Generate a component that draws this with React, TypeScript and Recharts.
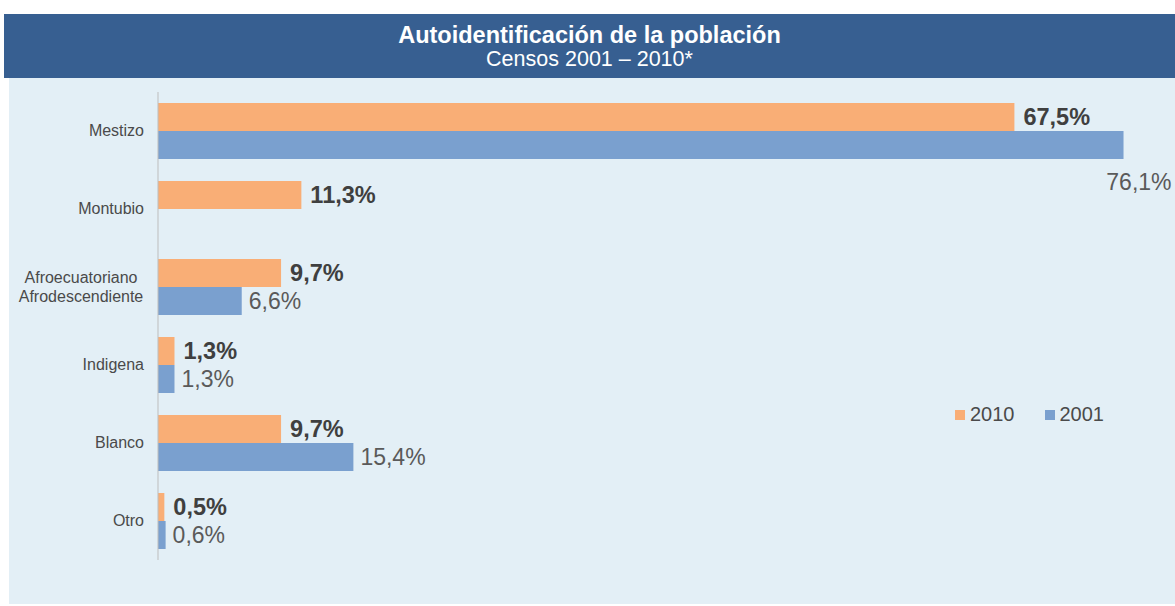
import React from "react";
import { BarChart, Bar, XAxis, YAxis, LabelList, Legend } from "recharts";

const categories = ["Mestizo", "Montubio", "Afroecuatoriano\nAfrodescendiente", "Indigena", "Blanco", "Otro"];
const values2010 = [67.5, 11.3, 9.7, 1.3, 9.7, 0.5];
const values2001 = [76.1, null, 6.6, 1.3, 15.4, 0.6];

const data = categories.map((name, i) => ({ name, y2010: values2010[i], y2001: values2001[i] }));

const FONT = "'Liberation Sans', Arial, sans-serif";
const ORANGE = "#f9ae76";
const BLUE = "#7aa0cf";
const CHART_W = 1175;

const fmt = (v: number) => v.toFixed(1).replace(".", ",") + "%";

const CategoryTick = (props: any) => {
  const { x, y, payload } = props;
  const lines = String(payload.value).split("\n");
  if (lines.length === 1) {
    return (
      <text x={x - 6} y={y} dy={5} textAnchor="end" fontSize={16} fill="#4a4a4a" fontFamily={FONT}>
        {lines[0]}
      </text>
    );
  }
  return (
    <text x={x - 69} y={y} textAnchor="middle" fontSize={16} fill="#4a4a4a" fontFamily={FONT}>
      {lines.map((l, i) => (
        <tspan key={i} x={x - 69} dy={i === 0 ? -4 : 19}>
          {l}
        </tspan>
      ))}
    </text>
  );
};

const makeLabel = (bold: boolean) => (props: any) => {
  const { x, y, width, height, value } = props;
  if (value == null) return null;
  const text = fmt(value);
  const end = x + width;
  const common = {
    fontSize: bold ? 23.5 : 23,
    fontFamily: FONT,
    fontWeight: bold ? 700 : 400,
    fill: bold ? "#3f3f3f" : "#5a5a5a",
  };
  if (end + 80 > CHART_W) {
    return (
      <text x={end + 48} y={y + height + 31} textAnchor="end" {...common}>
        {text}
      </text>
    );
  }
  return (
    <text x={end + (bold ? 9 : 7)} y={y + height / 2 + 8} textAnchor="start" {...common}>
      {text}
    </text>
  );
};

const LegendContent = () => (
  <div style={{ display: "flex", fontFamily: FONT, fontSize: 20, color: "#4a4a4a", alignItems: "center" }}>
    <span style={{ display: "inline-block", width: 10, height: 10, background: ORANGE, marginRight: 5 }} />
    <span style={{ marginRight: 30 }}>2010</span>
    <span style={{ display: "inline-block", width: 10, height: 10, background: BLUE, marginRight: 5 }} />
    <span>2001</span>
  </div>
);

export default function App() {
  return (
    <div style={{ position: "absolute", left: 0, top: 0, width: 1175, height: 606, background: "#fff" }}>
      <div
        style={{
          position: "absolute",
          left: 4,
          top: 14,
          width: 1171,
          height: 64,
          background: "#375f91",
          color: "#fff",
          fontFamily: FONT,
          textAlign: "center",
        }}
      >
        <div style={{ fontSize: 23.5, fontWeight: 700, marginTop: 8, lineHeight: "26px" }}>
          Autoidentificación de la población
        </div>
        <div style={{ fontSize: 21.5, lineHeight: "23px" }}>Censos 2001 – 2010*</div>
      </div>
      <div style={{ position: "absolute", left: 9, top: 78, width: 1166, height: 526, background: "#e3eff6" }} />
      <div style={{ position: "absolute", left: 0, top: 0 }}>
        <BarChart
          width={1175}
          height={606}
          data={data}
          layout="vertical"
          margin={{ top: 92, right: 2, bottom: 46, left: 0 }}
          barGap={0}
          barCategoryGap={11}
        >
          <XAxis type="number" domain={[0, 80]} hide />
          <YAxis
            type="category"
            dataKey="name"
            width={158}
            tickLine={false}
            axisLine={{ stroke: "#bdbdbd" }}
            tick={<CategoryTick />}
            interval={0}
          />
          <Legend
            layout="horizontal"
            align="center"
            verticalAlign="middle"
            content={<LegendContent />}
            wrapperStyle={{ left: 955, top: 403, width: 200 }}
          />
          <Bar dataKey="y2010" name="2010" fill={ORANGE} barSize={28} isAnimationActive={false}>
            <LabelList dataKey="y2010" content={makeLabel(true)} />
          </Bar>
          <Bar dataKey="y2001" name="2001" fill={BLUE} barSize={28} isAnimationActive={false}>
            <LabelList dataKey="y2001" content={makeLabel(false)} />
          </Bar>
        </BarChart>
      </div>
    </div>
  );
}
